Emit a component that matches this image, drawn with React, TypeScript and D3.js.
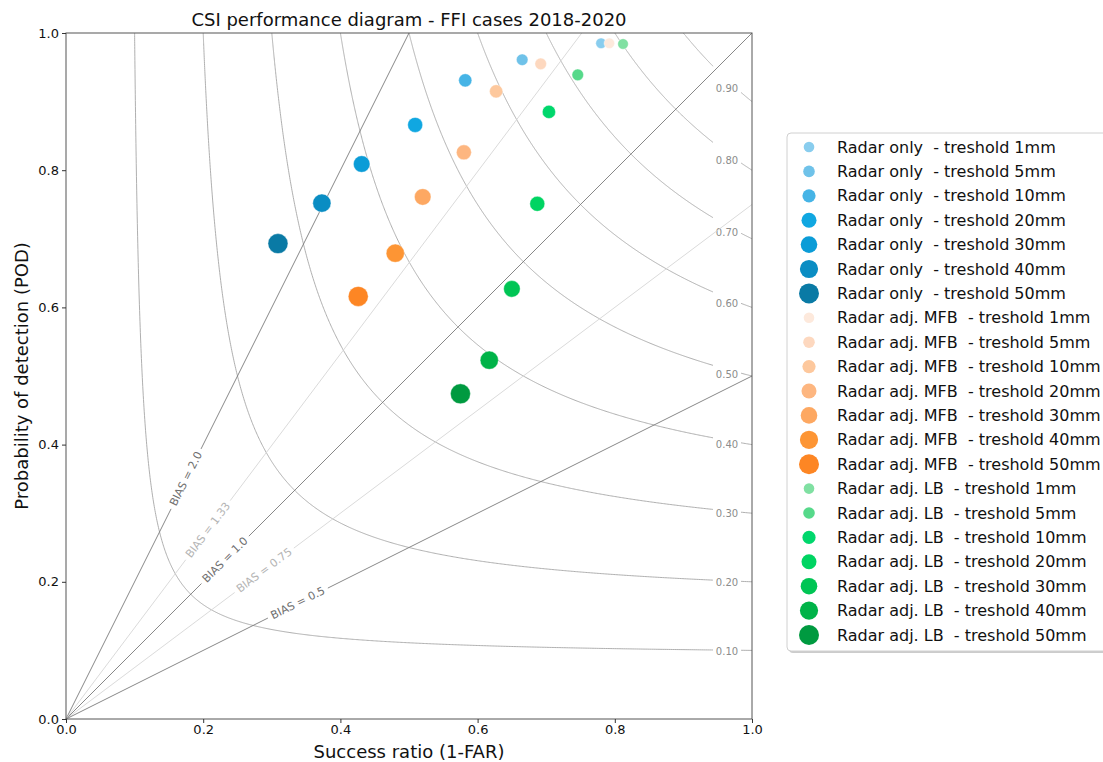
import { useEffect, useRef } from 'react';
import * as d3 from 'd3';

// values
const groups = ['Radar only ', 'Radar adj. MFB ', 'Radar adj. LB '];
const thresholds = ['1mm', '5mm', '10mm', '20mm', '30mm', '40mm', '50mm'];

const radarOnlySR = [0.780, 0.665, 0.582, 0.509, 0.431, 0.373, 0.309];
const radarOnlyPOD = [0.985, 0.961, 0.931, 0.866, 0.809, 0.752, 0.693];
const mfbSR = [0.792, 0.692, 0.627, 0.580, 0.520, 0.480, 0.426];
const mfbPOD = [0.985, 0.955, 0.915, 0.826, 0.761, 0.679, 0.616];
const lbSR = [0.812, 0.746, 0.704, 0.687, 0.650, 0.617, 0.575];
const lbPOD = [0.984, 0.939, 0.885, 0.751, 0.627, 0.523, 0.474];

const radarOnlyColors = ['#89cdee', '#6fc2e9', '#46b4e6', '#10a7e1', '#0b9cd7', '#0a8dc3', '#0a7aa5'];
const mfbColors = ['#fde9dc', '#fdd8bf', '#fdc89d', '#fdb680', '#fda862', '#fd9534', '#fd8624'];
const lbColors = ['#80e0a2', '#56d98a', '#00d76c', '#00d462', '#00c554', '#00b348', '#009a40'];
const radii = [5.3, 5.8, 6.6, 7.5, 8.3, 9.1, 10];

const csiLevels = [0.1, 0.2, 0.3, 0.4, 0.5, 0.6, 0.7, 0.8, 0.9];
const biasLevels = [2.0, 1.33, 1.0, 0.75, 0.5];
const biasLabels = ['BIAS = 2.0', 'BIAS = 1.33', 'BIAS = 1.0', 'BIAS = 0.75', 'BIAS = 0.5'];
const biasLabelSR = [0.175, 0.207, 0.232, 0.289, 0.338];
const axisTicks = [0, 0.2, 0.4, 0.6, 0.8, 1.0];

function App() {
  const ref = useRef(null);

  useEffect(() => {
    const svg = d3.select(ref.current);
    svg.selectAll('*').remove();

    const font = 'DejaVu Sans, sans-serif';
    const x = d3.scaleLinear().domain([0, 1]).range([66, 752]);
    const y = d3.scaleLinear().domain([0, 1]).range([719, 33]);

    const plot = svg.append('g');
    const line = d3.line<[number, number]>().x((d) => x(d[0])).y((d) => y(d[1]));

    // CSI contours: CSI = 1 / (1/SR + 1/POD - 1)
    const gapLeft = x.invert(713);
    const gapRight = x.invert(741);
    csiLevels.forEach((c) => {
      const pod = (sr) => 1 / (1 / c + 1 - 1 / sr);
      const n = 600;
      const pts: [number, number][] = [];
      for (let i = 0; i <= n; i++) {
        const t = i / n;
        const sr = c + (1 - c) * t * t;
        pts.push([sr, Math.min(1, pod(sr))]);
      }
      const left = pts.filter((p) => p[0] <= gapLeft);
      left.push([gapLeft, pod(gapLeft)]);
      const right: [number, number][] = [[gapRight, pod(gapRight)], ...pts.filter((p) => p[0] >= gapRight)];
      [left, right].forEach((seg) => {
        plot.append('path').attr('d', line(seg)).attr('fill', 'none')
          .attr('stroke', '#a6a6a6').attr('stroke-width', 0.9);
      });
      plot.append('text')
        .attr('x', 727).attr('y', y(pod(0.963)) + c * 10)
        .attr('text-anchor', 'middle').attr('dominant-baseline', 'central')
        .attr('font-family', font).attr('font-size', 10).attr('fill', '#8c8c8c')
        .text(c.toFixed(2));
    });

    // bias lines: POD = BIAS * SR
    biasLevels.forEach((b, i) => {
      const dark = b === 2.0 || b === 1.0 || b === 0.5;
      const end: [number, number] = b >= 1 ? [1 / b, 1] : [1, b];
      const s0 = biasLabelSR[i];
      const cx = x(s0);
      const cy = y(s0 * b);
      const ang = Math.atan2(y(end[1]) - y(0), x(end[0]) - x(0));
      const label = plot.append('text')
        .attr('transform', `translate(${cx},${cy}) rotate(${(ang * 180) / Math.PI})`)
        .attr('text-anchor', 'middle').attr('dominant-baseline', 'central')
        .attr('font-family', font).attr('font-size', 11)
        .attr('fill', dark ? '#6e6e6e' : '#b4b4b4')
        .text(biasLabels[i]);
      const half = ((label.node() as SVGTextElement).getComputedTextLength() / 2) + 4;
      const ux = Math.cos(ang);
      const uy = Math.sin(ang);
      const color = dark ? '#7a7a7a' : '#d6d6d6';
      plot.append('line')
        .attr('x1', x(0)).attr('y1', y(0))
        .attr('x2', cx - ux * half).attr('y2', cy - uy * half)
        .attr('stroke', color).attr('stroke-width', 0.9);
      plot.append('line')
        .attr('x1', cx + ux * half).attr('y1', cy + uy * half)
        .attr('x2', x(end[0])).attr('y2', y(end[1]))
        .attr('stroke', color).attr('stroke-width', 0.9);
    });

    // points
    const series = [
      { sr: radarOnlySR, pod: radarOnlyPOD, colors: radarOnlyColors },
      { sr: mfbSR, pod: mfbPOD, colors: mfbColors },
      { sr: lbSR, pod: lbPOD, colors: lbColors },
    ];
    series.forEach((s) => {
      plot.selectAll(null)
        .data(s.sr)
        .enter()
        .append('circle')
        .attr('cx', (d) => x(d))
        .attr('cy', (d, j) => y(s.pod[j]))
        .attr('r', (d, j) => radii[j])
        .attr('fill', (d, j) => s.colors[j])
        .attr('stroke', '#ffffff').attr('stroke-width', 0.4);
    });

    // frame
    plot.append('rect')
      .attr('x', x(0)).attr('y', y(1))
      .attr('width', x(1) - x(0)).attr('height', y(0) - y(1))
      .attr('fill', 'none').attr('stroke', '#555').attr('stroke-width', 1);

    // axes
    const xAxis = svg.append('g')
      .attr('transform', `translate(0,${y(0)})`)
      .call(d3.axisBottom(x).tickValues(axisTicks).tickFormat(d3.format('.1f')).tickSize(4).tickPadding(2));
    const yAxis = svg.append('g')
      .attr('transform', `translate(${x(0)},0)`)
      .call(d3.axisLeft(y).tickValues(axisTicks).tickFormat(d3.format('.1f')).tickSize(4).tickPadding(3));
    [xAxis, yAxis].forEach((a) => {
      a.select('.domain').remove();
      a.selectAll('.tick line').attr('stroke', '#333');
      a.selectAll('text').attr('font-family', font).attr('font-size', 13).attr('fill', '#111');
    });

    // titles
    svg.append('text')
      .attr('x', 409).attr('y', 26).attr('text-anchor', 'middle')
      .attr('font-family', font).attr('font-size', 18).attr('fill', '#111')
      .text('CSI performance diagram - FFI cases 2018-2020');
    svg.append('text')
      .attr('x', 409).attr('y', 758).attr('text-anchor', 'middle')
      .attr('font-family', font).attr('font-size', 18).attr('fill', '#111')
      .text('Success ratio (1-FAR)');
    svg.append('text')
      .attr('transform', 'translate(28,376) rotate(-90)').attr('text-anchor', 'middle')
      .attr('font-family', font).attr('font-size', 18).attr('fill', '#111')
      .text('Probability of detection (POD)');

    // legend
    const lg = svg.append('g');
    lg.append('rect')
      .attr('x', 789).attr('y', 135).attr('width', 340).attr('height', 518).attr('rx', 4)
      .attr('fill', '#999').attr('opacity', 0.5);
    lg.append('rect')
      .attr('x', 787).attr('y', 133).attr('width', 340).attr('height', 518).attr('rx', 4)
      .attr('fill', '#fff').attr('stroke', '#d0d0d0').attr('stroke-width', 1);
    const entries: { label: string; color: string; r: number }[] = [];
    series.forEach((s, gi) => {
      thresholds.forEach((t, j) => {
        entries.push({ label: `${groups[gi]} - treshold ${t}`, color: s.colors[j], r: radii[j] });
      });
    });
    const row = d3.scaleLinear().domain([0, entries.length - 1]).range([147, 635]);
    const items = lg.selectAll(null).data(entries).enter().append('g')
      .attr('transform', (d, i) => `translate(0,${row(i)})`);
    items.append('circle').attr('cx', 809).attr('cy', 0).attr('r', (d) => d.r).attr('fill', (d) => d.color);
    items.append('text')
      .attr('x', 837).attr('y', 0).attr('dominant-baseline', 'central')
      .attr('font-family', font).attr('font-size', 16).attr('fill', '#111')
      .style('white-space', 'pre')
      .text((d) => d.label);
  }, []);

  return (
    <svg ref={ref} width={1103} height={762}
      style={{ position: 'absolute', left: 0, top: 0, background: '#fff' }} />
  );
}

export default App;
